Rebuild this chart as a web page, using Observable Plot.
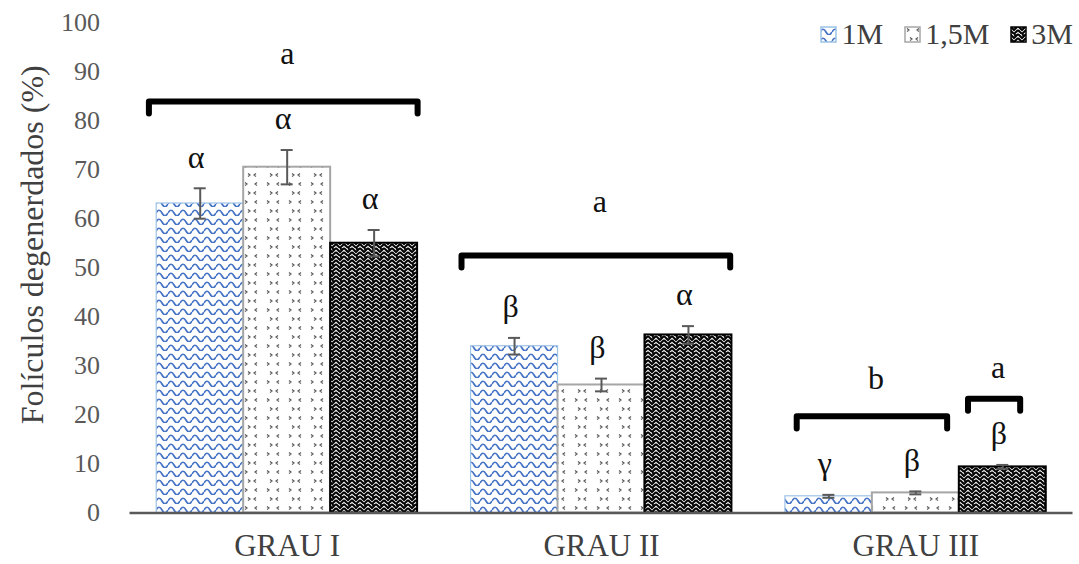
<!DOCTYPE html>
<html>
<head>
<meta charset="utf-8">
<script src="https://cdn.jsdelivr.net/npm/d3@7"></script>
<script src="https://cdn.jsdelivr.net/npm/@observablehq/plot@0.6"></script>
<style>
  body { margin: 0; background: #fff; font-family: "Liberation Serif", "Times New Roman", serif; }
  #wrap { position: relative; width: 1079px; height: 564px; overflow: hidden; }
  #chart svg, #chart svg text { font-family: "Liberation Serif", "Times New Roman", serif !important; }
  #legend { position: absolute; top: 19px; right: 6px; display: flex; align-items: center;
            font-size: 30px; line-height: 30px; color: #404040; }
  #legend .item { display: flex; align-items: center; margin-left: 21px; }
  #legend svg { margin-right: 4px; }
</style>
</head>
<body>
<div id="wrap"><div id="chart"></div><div id="legend"></div></div>
<script>
// ---- data ----
const groups = ["GRAU I", "GRAU II", "GRAU III"];
const series = ["1M", "1,5M", "3M"];
const values1M  = [63.1, 34.0, 3.4];
const values15M = [70.5, 26.1, 4.1];
const values3M  = [55.0, 36.3, 9.4];
const err1M  = [3.1, 1.7, 0.3];
const err15M = [3.5, 1.3, 0.3];
const err3M  = [2.7, 1.8, 0.4];
const letters1M  = ["α", "β", "γ"];
const letters15M = ["α", "β", "β"];
const letters3M  = ["α", "α", "β"];
const yTicks = [0, 10, 20, 30, 40, 50, 60, 70, 80, 90, 100];
const yLabel = "Folículos degenerdados (%)";
// significance brackets (span in bar widths from group centre, level in %)
const bracketGroup  = [0, 1, 2, 2];
const bracketLetter = ["a", "a", "b", "a"];
const bracketLevel  = [83.9, 52.5, 19.7, 23.3];
const bracketFrom   = [-1.59, -1.61, -1.37, 0.60];
const bracketTo     = [1.50, 1.48, 0.36, 1.20];
const bracketText   = [93.6, 63.5, 27.4, 29.7];

// ---- build tables ----
const seriesValues = [values1M, values15M, values3M];
const seriesErr = [err1M, err15M, err3M];
const seriesLetters = [letters1M, letters15M, letters3M];
const bars = groups.flatMap((g, gi) => series.map((s, si) => ({
  group: g, gi, series: s, si,
  value: seriesValues[si][gi], err: seriesErr[si][gi], letter: seriesLetters[si][gi]
})));
const BW = 87 / 314.5;   // bar width in group units
const CAP = 6 / 314.5;   // error cap half width
const cx = d => d.gi + (d.si - 1) * BW;
const LEG = 2.45;
const brackets = bracketGroup.map((gi, i) => ({
  id: i, gi, letter: bracketLetter[i], level: bracketLevel[i],
  xl: gi + bracketFrom[i] * BW, xr: gi + bracketTo[i] * BW, ty: bracketText[i]
}));
const bracketPts = brackets.flatMap(b => [
  {id: b.id, x: b.xl, y: b.level - LEG},
  {id: b.id, x: b.xl, y: b.level},
  {id: b.id, x: b.xr, y: b.level},
  {id: b.id, x: b.xr, y: b.level - LEG}
]);

const fills = ["url(#pWave)", "url(#pDots)", "url(#pWeave)"];
const strokes = ["#9dc3e6", "#a6a6a6", "#000000"];
const strokeWs = [1.2, 2, 2];

const chart = Plot.plot({
  width: 1079, height: 564,
  marginLeft: 129.5, marginRight: 6.5, marginTop: 22, marginBottom: 51.5,
  x: {domain: [-0.5, 2.5], axis: null},
  y: {domain: [0, 100], axis: null},
  style: {fontFamily: "'Liberation Serif', 'Times New Roman', serif", background: "#fff"},
  marks: [
    Plot.axisY({ticks: yTicks, tickSize: 0, tickPadding: 30, fontSize: 26, label: null, color: "#595959"}),
    Plot.axisX({ticks: [0, 1, 2], tickFormat: i => groups[i], tickSize: 0, tickPadding: 21, fontSize: 31, label: null, color: "#404040"}),
    ...series.map((s, si) => Plot.rectY(bars.filter(d => d.si === si), {
      x1: d => cx(d) - BW / 2, x2: d => cx(d) + BW / 2, y1: 0, y2: "value",
      fill: fills[si], stroke: strokes[si], strokeWidth: strokeWs[si], inset: 0
    })),
    Plot.ruleX(bars, {x: cx, y1: d => d.value - d.err, y2: d => d.value + d.err, stroke: "#595959", strokeWidth: 2}),
    Plot.ruleY(bars, {y: d => d.value + d.err, x1: d => cx(d) - CAP, x2: d => cx(d) + CAP, stroke: "#595959", strokeWidth: 2}),
    Plot.ruleY(bars, {y: d => d.value - d.err, x1: d => cx(d) - CAP, x2: d => cx(d) + CAP, stroke: "#595959", strokeWidth: 2}),
    Plot.ruleY([0], {stroke: "#595959", strokeWidth: 2.5}),
    Plot.text(bars, {x: cx, y: d => d.value + d.err, text: "letter", dy: -31, dx: -4, fontSize: 32, fill: "#111"}),
    Plot.line(bracketPts, {x: "x", y: "y", z: "id", stroke: "#000", strokeWidth: 6, strokeLinejoin: "round", curve: "linear"}),
    Plot.text(brackets, {x: b => (b.xl + b.xr) / 2, y: "ty", text: "letter", dx: 4, fontSize: 32, fill: "#111"}),
    Plot.text([yLabel], {frameAnchor: "left", textAnchor: "middle", rotate: -90, dx: -97, dy: -23, fontSize: 32, fill: "#404040"})
  ]
});

// patterns
const defs = d3.select(chart).insert("defs", ":first-child");
const pw = defs.append("pattern").attr("id", "pWave").attr("patternUnits", "userSpaceOnUse").attr("width", 12).attr("height", 9);
pw.append("rect").attr("width", 12).attr("height", 9).attr("fill", "#fff");
pw.append("path").attr("d", "M0 6 Q3 0.5 6 6 T12 6").attr("fill", "none").attr("stroke", "#4472c4").attr("stroke-width", 1.7);
const pd = defs.append("pattern").attr("id", "pDots").attr("patternUnits", "userSpaceOnUse").attr("width", 22).attr("height", 18);
pd.append("rect").attr("width", 22).attr("height", 18).attr("fill", "#fff");
pd.append("path").attr("d", "M3 2.5 L5 4 L3 5.5 M15 2.5 L13 4 L15 5.5 M14 11.5 L12 13 L14 14.5 M6 11.5 L8 13 L6 14.5")
  .attr("fill", "none").attr("stroke", "#595959").attr("stroke-width", 1.2);
const pv = defs.append("pattern").attr("id", "pWeave").attr("patternUnits", "userSpaceOnUse").attr("width", 8).attr("height", 8);
pv.append("rect").attr("width", 8).attr("height", 8).attr("fill", "#fff");
pv.append("path").attr("d", "M0 0 L4 4 L8 0 M0 4 L4 8 L8 4 M-2 6 L0 8 M8 8 L10 6 M4 0 L6 2").attr("fill", "none").attr("stroke", "#000").attr("stroke-width", 2);

document.getElementById("chart").appendChild(chart);

// legend
const legend = d3.select("#legend");
series.forEach((s, si) => {
  const it = legend.append("div").attr("class", "item");
  const sv = it.append("svg").attr("width", 17).attr("height", 17);
  sv.append("rect").attr("x", 1).attr("y", 1).attr("width", 15).attr("height", 15)
    .attr("fill", fills[si]).attr("stroke", strokes[si]).attr("stroke-width", 1.5);
  it.append("span").text(s);
});
</script>
</body>
</html>
